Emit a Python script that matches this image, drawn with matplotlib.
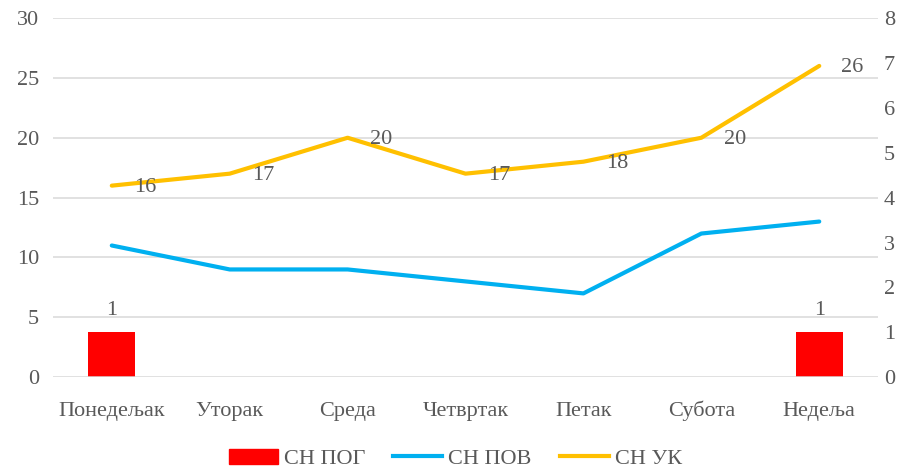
import matplotlib
matplotlib.use("Agg")
import matplotlib.pyplot as plt
import numpy as np

categories = ["Понедељак", "Уторак", "Среда", "Четвртак", "Петак", "Субота", "Недеља"]
sn_pog = [1, 0, 0, 0, 0, 0, 1]
sn_pov = [11, 9, 9, 8, 7, 12, 13]
sn_uk = [16, 17, 20, 17, 18, 20, 26]

plt.rcParams['font.family'] = ['Liberation Serif', 'DejaVu Serif']
txt = '#595959'
fs = 16

fig = plt.figure(figsize=(9.11, 4.68), dpi=100)
ax = fig.add_axes([0.058, 0.194, 0.906, 0.7675])
ax2 = ax.twinx()
x = np.arange(len(categories))

# bars on secondary axis
ax2.bar(x, sn_pog, width=0.4, color='#FF0000', zorder=2)
for xi, v in zip(x, sn_pog):
    if v:
        ax2.annotate(str(v), (xi, v), xytext=(0, 9), textcoords='offset points',
                     ha='center', va='bottom', fontsize=fs, color=txt)
ax2.set_ylim(0, 8)
ax2.set_yticks(range(0, 9))

ax.set_zorder(ax2.get_zorder() + 1)
ax.patch.set_visible(False)
ax.plot(x, sn_pov, color='#00B0F0', lw=3, solid_capstyle='round')
ax.plot(x, sn_uk, color='#FFC000', lw=3, solid_capstyle='round')
for xi, v in zip(x, sn_uk):
    ax.annotate(str(v), (xi, v), xytext=(24, -1), textcoords='offset points',
                ha='center', va='center', fontsize=fs, color=txt)
ax.set_ylim(0, 30)
ax.set_yticks(range(0, 31, 5))
ax.set_xlim(-0.5, 6.5)
ax.set_xticks(x)
ax.set_xticklabels(categories)
ax.grid(axis='y', color='#D9D9D9', lw=1.1)
ax.set_axisbelow(True)

for a in (ax, ax2):
    for s in a.spines.values():
        s.set_visible(False)
    a.tick_params(length=0, labelsize=fs, colors=txt)
ax.tick_params(axis='x', pad=28)
for lab in ax.get_xticklabels():
    lab.set_verticalalignment('baseline')
ax.tick_params(axis='y', pad=10)
ax2.tick_params(axis='y', pad=4)
ax2.grid(False)
ax2.set_xlim(-0.5, 6.5)

from matplotlib.patches import Patch
from matplotlib.lines import Line2D
handles = [Patch(color='#FF0000'), Line2D([], [], color='#00B0F0', lw=3),
           Line2D([], [], color='#FFC000', lw=3)]
fig.legend(handles, ["СН ПОГ", "СН ПОВ", "СН УК"], loc='lower center',
           bbox_to_anchor=(0.5, -0.045), ncol=3, frameon=False, fontsize=fs,
           labelcolor=txt, handlelength=2.2, columnspacing=1.27, handletextpad=0.27)

fig.savefig("out.png", dpi=100)
